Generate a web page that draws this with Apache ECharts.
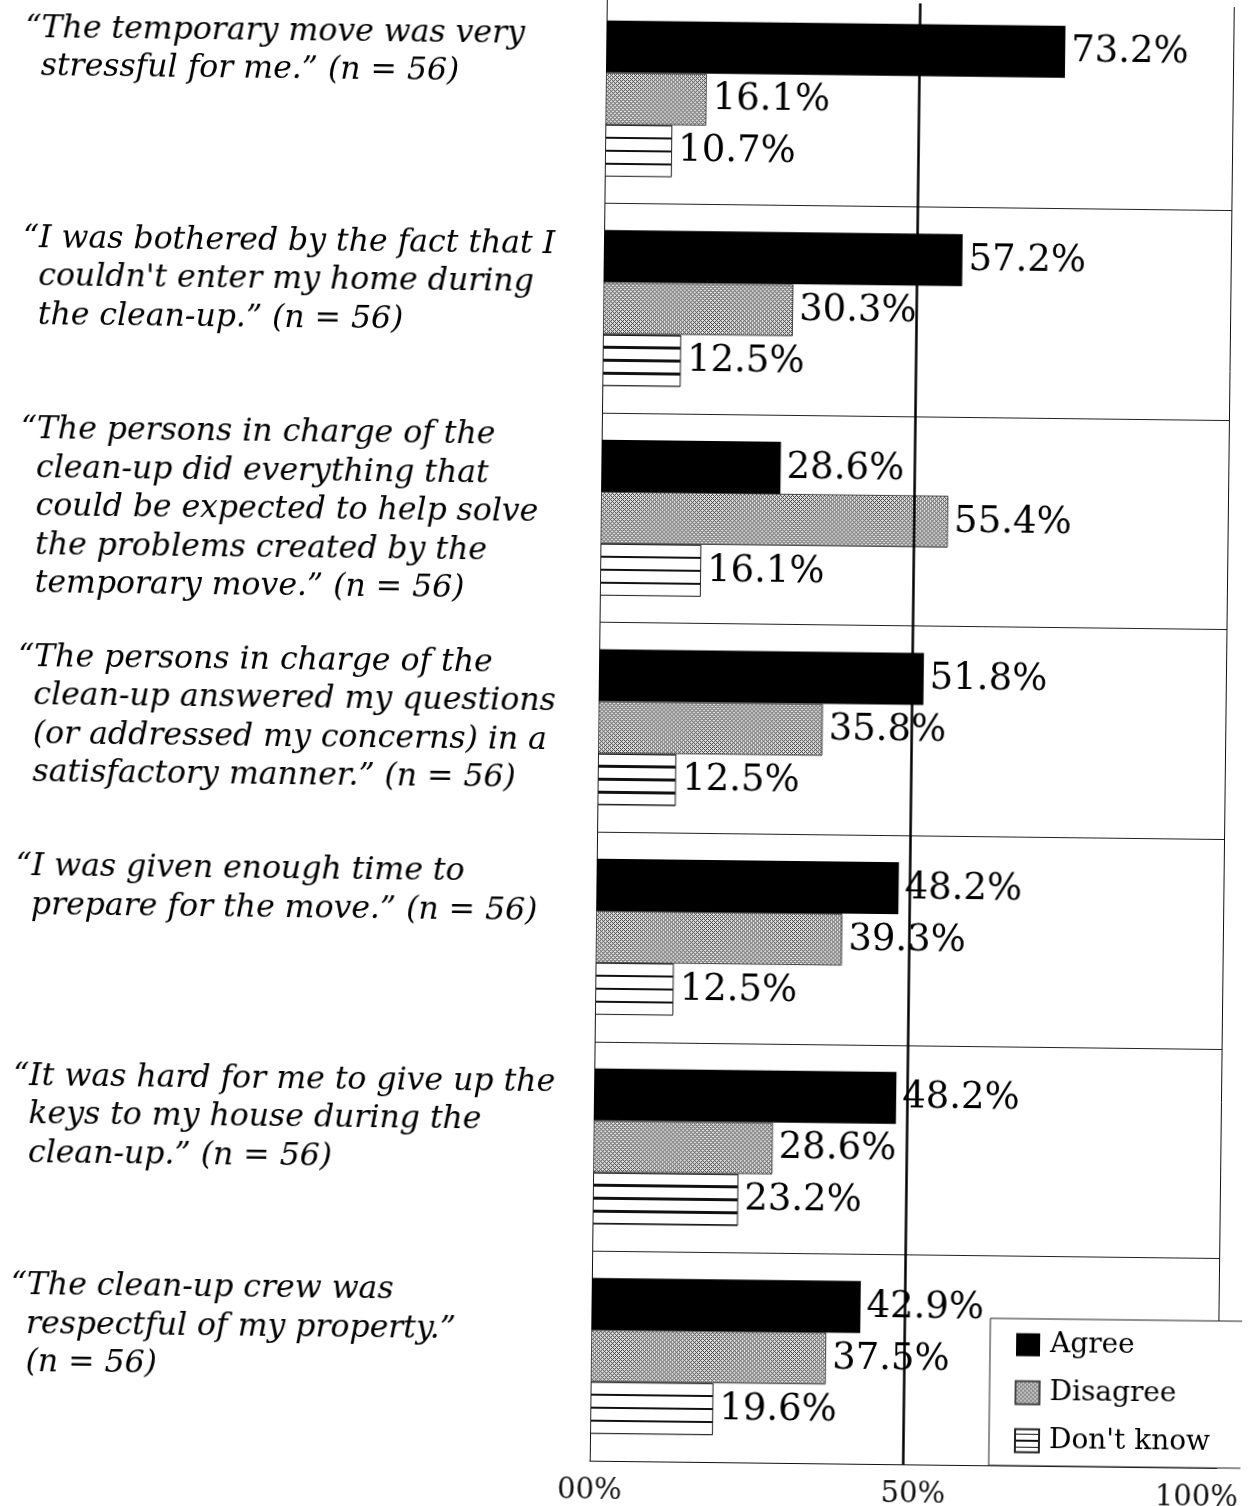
<!DOCTYPE html>
<html>
<head>
<meta charset="utf-8">
<script src="https://cdn.jsdelivr.net/npm/echarts@6/dist/echarts.min.js"></script>
<style>
  html, body { margin: 0; padding: 0; background: #fff; overflow: hidden; }
  #chart { width: 1249px; height: 1506px; transform: rotate(0.67deg); transform-origin: 50% 50%; }
</style>
</head>
<body>
<div id="chart"></div>
<script>
// Survey statements (one per row, top to bottom)
const categories = [
  '\u201cThe temporary move was very\nstressful for me.\u201d (n = 56)',
  '\u201cI was bothered by the fact that I\ncouldn\'t enter my home during\nthe clean-up.\u201d (n = 56)',
  '\u201cThe persons in charge of the\nclean-up did everything that\ncould be expected to help solve\nthe problems created by the\ntemporary move.\u201d (n = 56)',
  '\u201cThe persons in charge of the\nclean-up answered my questions\n(or addressed my concerns) in a\nsatisfactory manner.\u201d (n = 56)',
  '\u201cI was given enough time to\nprepare for the move.\u201d (n = 56)',
  '\u201cIt was hard for me to give up the\nkeys to my house during the\nclean-up.\u201d (n = 56)',
  '\u201cThe clean-up crew was\nrespectful of my property.\u201d\n(n = 56)'
];

// Percentages of respondents
const agree    = [73.2, 57.2, 28.6, 51.8, 48.2, 48.2, 42.9];
const disagree = [16.1, 30.3, 55.4, 35.8, 39.3, 28.6, 37.5];
const dontKnow = [10.7, 12.5, 16.1, 12.5, 12.5, 23.2, 19.6];

const seriesNames = ['Agree', 'Disagree', "Don't know"];
const xTickLabels = ['00%', '50%', '100%'];

// Stippled grey fill built from an ordered-dither tile
function stippleTile() {
  const bayer = [[0, 8, 2, 10], [12, 4, 14, 6], [3, 11, 1, 9], [15, 7, 13, 5]];
  const c = document.createElement('canvas');
  c.width = 4; c.height = 4;
  const ctx = c.getContext('2d');
  for (let y = 0; y < 4; y++) {
    for (let x = 0; x < 4; x++) {
      ctx.fillStyle = bayer[y][x] < 6 ? '#3a3a3a' : '#e6e6e6';
      ctx.fillRect(x, y, 1, 1);
    }
  }
  return c;
}

// Horizontal hatching drawn relative to each bar's own box
function hatchGradient() {
  const stops = [];
  const lines = [0, 0.25, 0.5, 0.75, 1];
  const half = 0.022;
  lines.forEach(function (p, i) {
    const a = Math.max(0, p - half), b = Math.min(1, p + half);
    if (i > 0) stops.push({ offset: a, color: '#fff' });
    stops.push({ offset: a, color: '#111' });
    stops.push({ offset: b, color: '#111' });
    if (i < lines.length - 1) stops.push({ offset: b, color: '#fff' });
  });
  return { type: 'linear', x: 0, y: 0, x2: 0, y2: 1, colorStops: stops };
}

const serif = 'DejaVu Serif';
const LINE_H = 38.5;

// Statements hang from near the top of their row: a spacer line below the
// text (its height depends on how many lines the statement has) pushes the
// centred block upwards.
function spacerHeight(n) { return Math.max(8, 164.5 - LINE_H * n); }
const labelRich = {};
for (let n = 1; n <= 8; n++) {
  labelRich['pad' + n] = { lineHeight: spacerHeight(n), fontSize: 4 };
}

const chart = echarts.init(document.getElementById('chart'), null, { renderer: 'canvas' });

const valueLabel = {
  show: true,
  position: 'right',
  distance: 6,
  fontFamily: serif,
  fontSize: 37,
  color: '#000',
  formatter: function (p) { return p.value.toFixed(1) + '%'; }
};

chart.setOption({
  animation: false,
  backgroundColor: '#fff',
  grid: { left: 598, top: -6, width: 627, height: 1467, outerBoundsMode: 'none' },
  legend: {
    data: seriesNames,
    orient: 'vertical',
    left: 997,
    top: 1314,
    padding: [11, 110, 10, 25],
    itemGap: 18,
    itemWidth: 24,
    itemHeight: 23,
    icon: 'rect',
    backgroundColor: '#fff',
    borderColor: '#222',
    borderWidth: 1,
    textStyle: { fontFamily: serif, fontSize: 28, lineHeight: 30, color: '#000', padding: [0, 0, 0, 5] }
  },
  xAxis: {
    type: 'value',
    min: 0,
    max: 100,
    interval: 50,
    axisLine: { show: true, lineStyle: { color: '#111', width: 1 } },
    axisTick: { show: false },
    splitLine: { show: true, lineStyle: { color: '#111', width: 1 } },
    axisLabel: {
      margin: 16,
      fontFamily: serif,
      fontSize: 29,
      color: '#111',
      rich: {
        lo: { fontFamily: serif, fontSize: 29, color: '#111' },
        mid: { fontFamily: serif, fontSize: 29, color: '#111', padding: [0, 0, 0, 20] },
        hi: { fontFamily: serif, fontSize: 29, color: '#111', padding: [0, 40, 0, 0] }
      },
      formatter: function (v) {
        const i = Math.round(v / 50);
        return '{' + ['lo', 'mid', 'hi'][i] + '|' + xTickLabels[i] + '}';
      }
    }
  },
  yAxis: {
    type: 'category',
    inverse: true,
    data: categories,
    axisLine: { show: true, lineStyle: { color: '#111', width: 1 } },
    axisTick: { show: false },
    splitLine: { show: true, interval: 0, lineStyle: { color: '#222', width: 1 } },
    axisLabel: {
      interval: 0,
      showMinLabel: true,
      showMaxLabel: true,
      align: 'left',
      verticalAlign: 'middle',
      margin: 581,
      fontFamily: serif,
      fontStyle: 'italic',
      fontSize: 31.5,
      lineHeight: LINE_H,
      color: '#000',
      rich: labelRich,
      formatter: function (v) {
        const lines = v.split('\n').map(function (l, i) { return i ? '\u2002' + l : l; });
        lines.push('{pad' + lines.length + '| }');
        return lines.join('\n');
      }
    }
  },
  series: [
    {
      name: seriesNames[0],
      type: 'bar',
      data: agree,
      barWidth: 52,
      barGap: '0%',
      itemStyle: { color: '#000' },
      label: valueLabel,
      markLine: {
        silent: true,
        symbol: 'none',
        label: { show: false },
        lineStyle: { color: '#000', width: 2.5, type: 'solid' },
        data: [{ xAxis: 50 }]
      }
    },
    {
      name: seriesNames[1],
      type: 'bar',
      data: disagree,
      barWidth: 52,
      barGap: '0%',
      itemStyle: { color: { image: stippleTile(), repeat: 'repeat' }, borderColor: '#444', borderWidth: 1 },
      label: valueLabel
    },
    {
      name: seriesNames[2],
      type: 'bar',
      data: dontKnow,
      barWidth: 52,
      barGap: '0%',
      itemStyle: { color: hatchGradient(), borderColor: '#222', borderWidth: 1 },
      label: valueLabel
    }
  ]
});
</script>
</body>
</html>
